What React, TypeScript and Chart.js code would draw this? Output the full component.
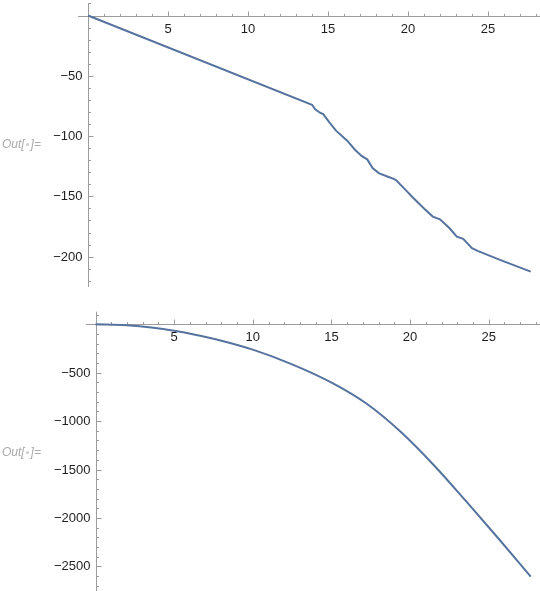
import React, { useEffect, useRef } from "react";
import { Chart, registerables } from "chart.js";
Chart.register(...registerables);

// ---- data ----
const topX = [0, 14.0, 14.2, 14.5, 14.7, 15.1, 15.5, 16.2, 16.7, 17.1, 17.45, 17.8, 18.2, 18.75, 19.1, 19.25, 19.8, 20.35, 21.05, 21.55, 22.0, 22.6, 23.05, 23.45, 24.0, 24.35, 25.75, 27.67];
const topY = [0, -74, -77.8, -80.6, -81.8, -88.9, -95.5, -103.8, -111.5, -116.5, -119.3, -126.7, -130.9, -133.7, -135.5, -136.5, -144, -151.6, -160.7, -166.8, -169, -176.5, -183.4, -185.3, -193, -195.3, -202.7, -212.4];

const botX = [0, 2, 5, 7.5, 10, 12.5, 15.1, 17.2, 19.4, 21.5, 23.6, 25.7, 27.67];
const botY = [0, -11, -66, -149, -262, -414, -610, -816, -1110, -1453, -1835, -2228, -2607];

const topXTicks = [5, 10, 15, 20, 25];
const topYTicks = [-50, -100, -150, -200];
const botXTicks = [5, 10, 15, 20, 25];
const botYTicks = [-500, -1000, -1500, -2000, -2500];

const LINE = "#56739f";
const AXIS = "#9c9c9c";
const LABEL = "#1e1e1e";
const FONT = '13px "Liberation Sans", Arial, sans-serif';

function fmt(v: number) {
  return v < 0 ? "\u2212" + Math.abs(v) : String(v);
}

const axesPlugin = {
  id: "mmaAxes",
  beforeDatasetsDraw(chart: any, _args: any, opts: any) {
    const { ctx, chartArea: ca } = chart;
    const x = chart.scales.x;
    const y = chart.scales.y;
    const x0 = Math.round(x.getPixelForValue(0)) + 0.5;
    const y0 = Math.round(y.getPixelForValue(0)) + 0.5;
    ctx.save();
    ctx.strokeStyle = AXIS;
    ctx.lineWidth = 1;
    ctx.beginPath();
    ctx.moveTo(ca.left, y0);
    ctx.lineTo(ca.right, y0);
    ctx.moveTo(x0, ca.top);
    ctx.lineTo(x0, ca.bottom);
    // x ticks (upwards)
    const xs = opts.xMinor;
    for (let i = Math.ceil(x.min / xs); i * xs <= x.max; i++) {
      const v = i * xs;
      if (i === 0) continue;
      const major = opts.xTicks.includes(v);
      const len = major ? 5 : 2.5;
      const px = Math.round(x.getPixelForValue(v)) + 0.5;
      ctx.moveTo(px, y0);
      ctx.lineTo(px, y0 - len);
    }
    // y ticks (rightwards)
    const ys = opts.yMinor;
    for (let i = Math.ceil(y.min / ys); i * ys <= y.max; i++) {
      const v = i * ys;
      if (i === 0) continue;
      const major = opts.yTicks.includes(v);
      const len = major ? 5 : 2.5;
      const py = Math.round(y.getPixelForValue(v)) + 0.5;
      ctx.moveTo(x0, py);
      ctx.lineTo(x0 + len, py);
    }
    ctx.stroke();

    ctx.fillStyle = LABEL;
    ctx.font = FONT;
    ctx.textAlign = "center";
    ctx.textBaseline = "middle";
    for (const v of opts.xTicks) {
      ctx.fillText(fmt(v), x.getPixelForValue(v), y0 + 13);
    }
    ctx.textAlign = "right";
    for (const v of opts.yTicks) {
      ctx.fillText(fmt(v), x0 - 6, y.getPixelForValue(v) + 0.5);
    }
    ctx.restore();
  },
};

type PlotProps = {
  xs: number[];
  ys: number[];
  top: number;
  height: number;
  padding: { left: number; right: number; top: number; bottom: number };
  xRange: [number, number];
  yRange: [number, number];
  xTicks: number[];
  yTicks: number[];
  xMinor: number;
  yMinor: number;
  smooth: boolean;
};

function Plot(p: PlotProps) {
  const ref = useRef<HTMLCanvasElement | null>(null);
  useEffect(() => {
    if (!ref.current) return;
    const chart = new Chart(ref.current, {
      type: "scatter",
      data: {
        datasets: [
          {
            data: p.xs.map((x, i) => ({ x, y: p.ys[i] })),
            showLine: true,
            borderColor: LINE,
            borderWidth: 2,
            pointRadius: 0,
            fill: false,
            tension: 0,
            cubicInterpolationMode: p.smooth ? "monotone" : "default",
          } as any,
        ],
      },
      options: {
        responsive: false,
        animation: false,
        devicePixelRatio: 1,
        layout: { padding: p.padding },
        plugins: {
          legend: { display: false },
          tooltip: { enabled: false },
          mmaAxes: {
            xTicks: p.xTicks,
            yTicks: p.yTicks,
            xMinor: p.xMinor,
            yMinor: p.yMinor,
          },
        } as any,
        scales: {
          x: { type: "linear", display: false, min: p.xRange[0], max: p.xRange[1] },
          y: { type: "linear", display: false, min: p.yRange[0], max: p.yRange[1] },
        },
      },
      plugins: [axesPlugin as any],
    });
    return () => chart.destroy();
  }, []);
  return (
    <canvas
      ref={ref}
      width={540}
      height={p.height}
      style={{ position: "absolute", left: 0, top: p.top, width: 540, height: p.height }}
    />
  );
}

const outStyle: React.CSSProperties = {
  position: "absolute",
  left: 2,
  fontFamily: '"Liberation Sans", Arial, sans-serif',
  fontStyle: "italic",
  fontSize: 12,
  lineHeight: "16px",
  color: "#a9a9a9",
  whiteSpace: "nowrap",
};

function OutLabel({ top }: { top: number }) {
  return (
    <div style={{ ...outStyle, top }}>
      Out[<span style={{ color: "#d0d0d0", fontStyle: "normal", fontSize: 11, padding: "0 1px" }}>▪</span>]=
    </div>
  );
}

export default function App() {
  return (
    <div style={{ position: "absolute", left: 0, top: 0, width: 540, height: 591, background: "#fff", overflow: "hidden" }}>
      <Plot
        xs={topX}
        ys={topY}
        top={0}
        height={290}
        padding={{ left: 78, right: 0, top: 3, bottom: 3 }}
        xRange={[-0.625, 28.25]}
        yRange={[-225.2, 10.4]}
        xTicks={topXTicks}
        yTicks={topYTicks}
        xMinor={1}
        yMinor={10}
        smooth={false}
      />
      <Plot
        xs={botX}
        ys={botY}
        top={290}
        height={301}
        padding={{ left: 86, right: 0, top: 21.7, bottom: 0 }}
        xRange={[-0.604, 28.26]}
        yRange={[-2755, 130]}
        xTicks={botXTicks}
        yTicks={botYTicks}
        xMinor={1}
        yMinor={100}
        smooth={true}
      />
      <OutLabel top={136} />
      <OutLabel top={444} />
    </div>
  );
}
